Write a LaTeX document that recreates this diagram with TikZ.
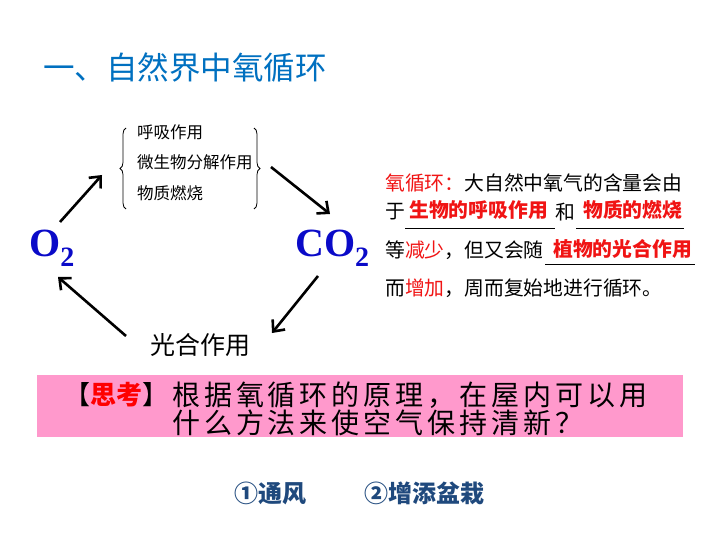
\documentclass[tikz,border=0pt]{standalone}
\usepackage{fontspec}
\setmainfont{Liberation Serif}
\newfontfamily\cjk{Noto Sans CJK SC}
\usetikzlibrary{arrows.meta,decorations.pathreplacing}
\definecolor{titleblue}{RGB}{0,112,192}
\definecolor{formblue}{RGB}{10,10,200}
\definecolor{pinkbg}{RGB}{255,153,204}
\definecolor{ansblue}{RGB}{31,73,125}
\definecolor{txtred}{RGB}{240,20,20}
\tikzset{
  arr/.style={line width=2.6pt, -{Straight Barb[length=9pt,width=16pt,line width=2.6pt]}},
  lst/.style={font=\cjk\fontsize{16.5}{17}\selectfont, inner sep=0pt, anchor=west},
  rt/.style={font=\cjk\fontsize{19.8}{20}\selectfont, inner sep=0pt, anchor=west},
  ans/.style={font=\cjk\bfseries\fontsize{19.8}{20}\selectfont, text=txtred, inner sep=0pt, anchor=west},
  ul/.style={line width=0.9pt},
  chem/.style={font=\bfseries\fontsize{40}{40}\selectfont, text=formblue, inner sep=0pt},
  think/.style={font=\cjk\fontsize{28}{29}\selectfont\addfontfeature{LetterSpace=14}, inner sep=0pt, anchor=west},
  bt/.style={font=\cjk\bfseries\fontsize{24}{24}\selectfont, text=ansblue, inner sep=0pt, anchor=west},
  brc/.style={decorate, decoration={brace, amplitude=6pt}, line width=0.8pt}
}
\newcommand{\subtwo}{\raisebox{-10pt}{\fontsize{28}{28}\selectfont 2}}
\begin{document}
\begin{tikzpicture}[x=1pt,y=-1pt]
\useasboundingbox (0,0) rectangle (720,540);
% title
\node[font=\cjk\fontsize{31.5}{32}\selectfont, text=titleblue, inner sep=0pt, anchor=west] (title) at (43,68) {一、自然界中氧循环};
% list with braces
\node[lst] (l1) at (137,132) {呼吸作用};
\node[lst] (l2) at (137,162) {微生物分解作用};
\node[lst] (l3) at (137,193) {物质燃烧};
\draw[brc] (126,209) -- (126,128);
\draw[brc] (254,128) -- (254,209);
% O2 and CO2
\node[chem, anchor=west] (o2) at (29,248) {O\subtwo};
\node[chem, anchor=west] (co2) at (295,248) {CO\subtwo};
\node[font=\cjk\fontsize{25}{25}\selectfont, inner sep=0pt] (ps) at (200,345) {光合作用};
% arrows
\coordinate (a1s) at (60,222); \coordinate (a1e) at (102,175);
\coordinate (a2s) at (271,167); \coordinate (a2e) at (330,214);
\coordinate (a3s) at (318,276); \coordinate (a3e) at (272,333);
\coordinate (a4s) at (126,336); \coordinate (a4e) at (58,277);
\draw[arr] (a1s) -- (a1e);
\draw[arr] (a2s) -- (a2e);
\draw[arr] (a3s) -- (a3e);
\draw[arr] (a4s) -- (a4e);
% right text block
\node[rt] (t1) at (385,183) {\textcolor{txtred}{氧循环：}大自然中氧气的含量会由};
\node[rt] (t2a) at (385,212) {于};
\draw[ul] (405,228) -- (555,228);
\node[ans] (r1) at (409,210) {生物的呼吸作用};
\node[rt] (t2b) at (555,212) {和};
\draw[ul] (576,228) -- (684,228);
\node[ans] (r2) at (583,210) {物质的燃烧};
\node[rt] (t3) at (385,250) {等\textcolor{txtred}{减少}，但又会随};
\draw[ul] (545,264) -- (695,264);
\node[ans] (r3) at (553,249) {植物的光合作用};
\node[rt] (t4) at (385,288) {而\textcolor{txtred}{增加}，周而复始地进行循环。};
% pink box
\node[fill=pinkbg, minimum width=646pt, minimum height=62pt, inner sep=0pt, anchor=north west] (box) at (37,375) {};
\node[font=\cjk\fontsize{26}{27}\selectfont, inner sep=0pt, anchor=east] (sk) at (169,395) {【\textcolor{red}{\bfseries 思考}】};
\node[think] (q1) at (172,395) {根据氧循环的原理，在屋内可以用};
\node[think] (q2) at (172,423) {什么方法来使空气保持清新？};
% answers
\node[bt] (b1) at (234,493) {①通风};
\node[bt] (b2) at (364,493) {②增添盆栽};
\end{tikzpicture}
\end{document}
